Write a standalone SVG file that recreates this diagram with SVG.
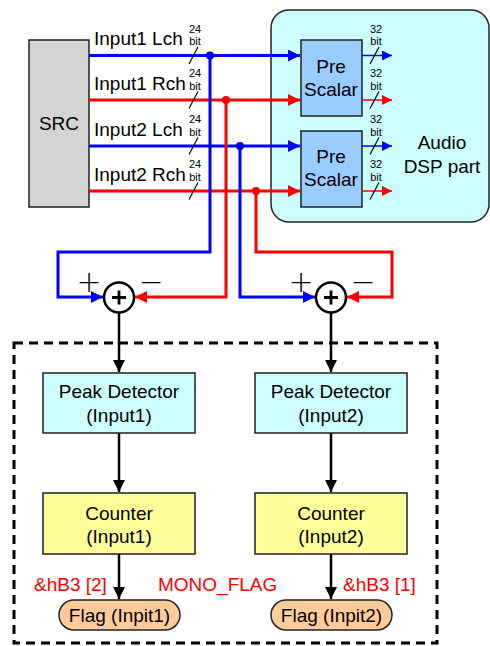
<svg xmlns="http://www.w3.org/2000/svg" width="490" height="646" viewBox="0 0 490 646">
<defs>
<style>
text{font-family:"Liberation Sans",Arial,sans-serif;fill:#000}
.t{font-size:19px}
.s{font-size:11px}
.c{text-anchor:middle}
.r{fill:#ff0000}
.pm{font-size:30px;font-family:"DejaVu Sans","Liberation Sans",sans-serif;font-weight:200}
.box{stroke:#222;stroke-width:1.5}
.b{stroke:#0000ff;stroke-width:3;fill:none}
.rd{stroke:#ff0000;stroke-width:3;fill:none}
.bt{stroke:#0000ff;stroke-width:1.5;fill:none}
.rt{stroke:#ff0000;stroke-width:1.5;fill:none}
.k{stroke:#000;stroke-width:2.5;fill:none}
.sl{stroke:#000;stroke-width:1.2}
</style>
<marker id="ab" markerUnits="userSpaceOnUse" markerWidth="13" markerHeight="13" refX="12" refY="6" orient="auto"><path d="M0,0 L12,6 L0,12 Z" fill="#0000ff"/></marker>
<marker id="ar" markerUnits="userSpaceOnUse" markerWidth="13" markerHeight="13" refX="12" refY="6" orient="auto"><path d="M0,0 L12,6 L0,12 Z" fill="#ff0000"/></marker>
<marker id="abs" markerUnits="userSpaceOnUse" markerWidth="11" markerHeight="11" refX="10" refY="5" orient="auto"><path d="M0,0 L10,5 L0,10 Z" fill="#0000ff"/></marker>
<marker id="ars" markerUnits="userSpaceOnUse" markerWidth="11" markerHeight="11" refX="10" refY="5" orient="auto"><path d="M0,0 L10,5 L0,10 Z" fill="#ff0000"/></marker>
<marker id="ak" markerUnits="userSpaceOnUse" markerWidth="13" markerHeight="13" refX="12" refY="6" orient="auto"><path d="M0,0 L12,6 L0,12 Z" fill="#000"/></marker>
</defs>

<g id="dsp">
<rect x="271" y="10" width="218" height="212" rx="18" fill="#ccffff" stroke="#222" stroke-width="1.5"/>
<text class="t c" x="442" y="149">Audio</text>
<text class="t c" x="442" y="173">DSP part</text>
</g>

<g id="src">
<rect class="box" x="29" y="40" width="60" height="167" fill="#d4d4d4"/>
<text class="t c" x="59" y="130">SRC</text>
</g>

<g id="prescalar1">
<rect class="box" x="301" y="40" width="61" height="76" fill="#99ccff"/>
<text class="t c" x="331" y="73">Pre</text>
<text class="t c" x="331" y="96">Scalar</text>
</g>
<g id="prescalar2">
<rect class="box" x="301" y="131" width="61" height="76" fill="#99ccff"/>
<text class="t c" x="331" y="163">Pre</text>
<text class="t c" x="331" y="186">Scalar</text>
</g>

<g id="connectors">
<path class="b" d="M89,55.5 H300" marker-end="url(#ab)"/>
<path class="rd" d="M89,100 H300" marker-end="url(#ar)"/>
<path class="b" d="M89,146 H300" marker-end="url(#ab)"/>
<path class="rd" d="M89,191 H300" marker-end="url(#ar)"/>
<path class="b" d="M210,55.5 V252 H58 V297 H103" marker-end="url(#ab)"/>
<path class="rd" d="M226,100 V297 H135" marker-end="url(#ar)"/>
<path class="b" d="M240,146 V297 H315" marker-end="url(#ab)"/>
<path class="rd" d="M256,191 V252 H392 V297 H347" marker-end="url(#ar)"/>
<circle cx="210" cy="55.5" r="4" fill="#0000ff"/>
<circle cx="226" cy="100" r="4" fill="#ff0000"/>
<circle cx="240" cy="146" r="4" fill="#0000ff"/>
<circle cx="256" cy="191" r="4" fill="#ff0000"/>
<path class="bt" d="M362,55.5 H392" marker-end="url(#abs)"/>
<path class="rt" d="M362,100 H392" marker-end="url(#ars)"/>
<path class="bt" d="M362,146 H392" marker-end="url(#abs)"/>
<path class="rt" d="M362,191 H392" marker-end="url(#ars)"/>
<path class="k" d="M119,313 V372" marker-end="url(#ak)"/>
<path class="k" d="M331,313 V372" marker-end="url(#ak)"/>
<path class="k" d="M119,433 V492" marker-end="url(#ak)"/>
<path class="k" d="M331,433 V492" marker-end="url(#ak)"/>
<path class="k" d="M119,554 V599" marker-end="url(#ak)"/>
<path class="k" d="M331,554 V599" marker-end="url(#ak)"/>
<g class="sl">
<line x1="189" y1="64" x2="198" y2="47"/>
<line x1="189" y1="108.5" x2="198" y2="91.5"/>
<line x1="189" y1="154.5" x2="198" y2="137.5"/>
<line x1="189" y1="199.5" x2="198" y2="182.5"/>
<line x1="370" y1="64" x2="379" y2="47"/>
<line x1="370" y1="108.5" x2="379" y2="91.5"/>
<line x1="370" y1="154.5" x2="379" y2="137.5"/>
<line x1="370" y1="199.5" x2="379" y2="182.5"/>
</g>
</g>

<g id="labels">
<text class="t" x="94" y="45">Input1 Lch</text>
<text class="t" x="94" y="90">Input1 Rch</text>
<text class="t" x="94" y="136">Input2 Lch</text>
<text class="t" x="94" y="181">Input2 Rch</text>
<text class="s c" x="195" y="32.5">24</text><text class="s c" x="195" y="45">bit</text>
<text class="s c" x="195" y="77">24</text><text class="s c" x="195" y="89.5">bit</text>
<text class="s c" x="195" y="123">24</text><text class="s c" x="195" y="135.5">bit</text>
<text class="s c" x="195" y="168">24</text><text class="s c" x="195" y="180.5">bit</text>
<text class="s c" x="376" y="32.5">32</text><text class="s c" x="376" y="45">bit</text>
<text class="s c" x="376" y="77">32</text><text class="s c" x="376" y="89.5">bit</text>
<text class="s c" x="376" y="123">32</text><text class="s c" x="376" y="135.5">bit</text>
<text class="s c" x="376" y="168">32</text><text class="s c" x="376" y="180.5">bit</text>
<text class="pm c" x="89" y="292">+</text>
<text class="pm c" x="151" y="292">−</text>
<text class="pm c" x="301" y="292">+</text>
<text class="pm c" x="363" y="292">−</text>
</g>

<g id="sum1">
<circle cx="119" cy="297.5" r="15" fill="#fff" stroke="#000" stroke-width="2.5"/>
<path d="M112,297.5 H126 M119,290.5 V304.5" stroke="#000" stroke-width="2.8"/>
</g>
<g id="sum2">
<circle cx="331" cy="297.5" r="15" fill="#fff" stroke="#000" stroke-width="2.5"/>
<path d="M324,297.5 H338 M331,290.5 V304.5" stroke="#000" stroke-width="2.8"/>
</g>

<g id="group">
<rect x="14" y="343" width="423" height="300" fill="none" stroke="#000" stroke-width="3" stroke-dasharray="9,6"/>
</g>

<g id="peak1">
<rect class="box" x="43" y="373" width="152" height="60" fill="#ccffff"/>
<text class="t c" x="119" y="398">Peak Detector</text>
<text class="t c" x="119" y="422">(Input1)</text>
</g>
<g id="peak2">
<rect class="box" x="255" y="373" width="152" height="60" fill="#ccffff"/>
<text class="t c" x="331" y="398">Peak Detector</text>
<text class="t c" x="331" y="422">(Input2)</text>
</g>
<g id="counter1">
<rect class="box" x="43" y="493" width="152" height="61" fill="#ffff99"/>
<text class="t c" x="119" y="520">Counter</text>
<text class="t c" x="119" y="543">(Input1)</text>
</g>
<g id="counter2">
<rect class="box" x="255" y="493" width="152" height="61" fill="#ffff99"/>
<text class="t c" x="331" y="520">Counter</text>
<text class="t c" x="331" y="543">(Input2)</text>
</g>
<g id="flag1">
<rect class="box" x="59" y="600" width="121" height="30" rx="15" fill="#ffcc99"/>
<text class="t c" x="119.5" y="622">Flag (Inpit1)</text>
</g>
<g id="flag2">
<rect class="box" x="271" y="600" width="121" height="30" rx="15" fill="#ffcc99"/>
<text class="t c" x="331.5" y="622">Flag (Inpit2)</text>
</g>

<g id="redlabels">
<text class="t r" x="34" y="591">&amp;hB3 [2]</text>
<text class="t r" x="158" y="591">MONO_FLAG</text>
<text class="t r" x="343" y="591">&amp;hB3 [1]</text>
</g>
</svg>
